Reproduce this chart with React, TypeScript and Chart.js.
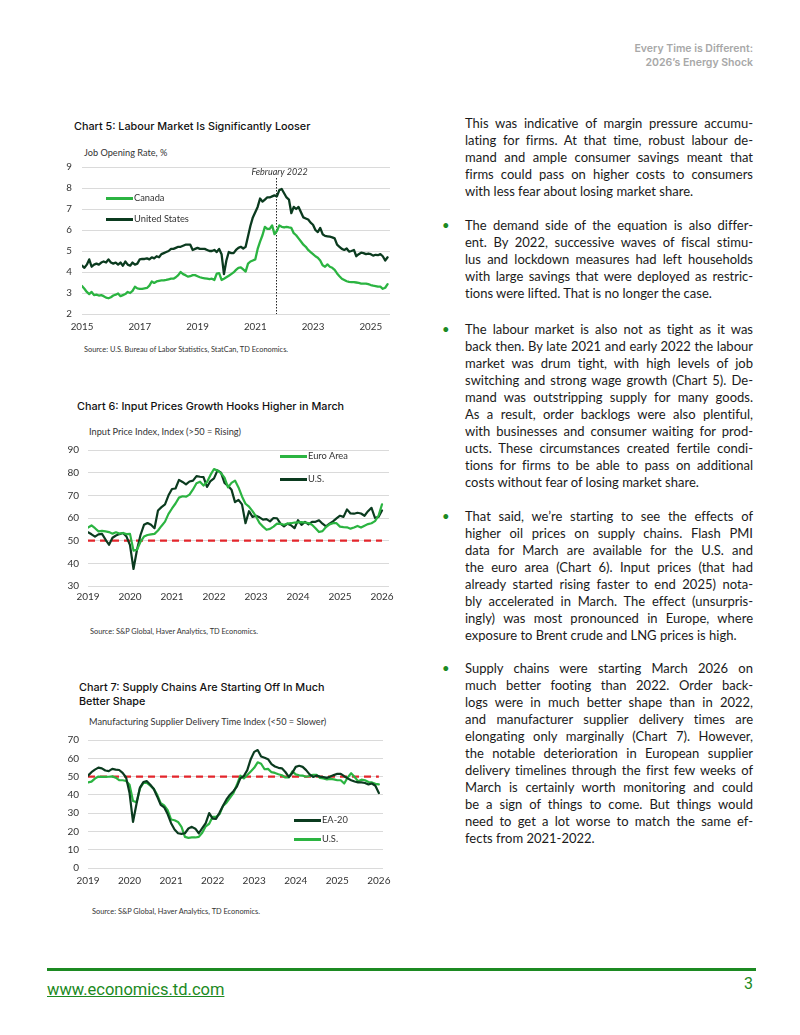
import React, { useEffect, useRef } from "react";
import { Chart, registerables } from "chart.js";
Chart.register(...registerables);

// ---------- colours ----------
const DARK = "#0b3b1f";
const GREEN = "#2bb441";
const RED = "#e3262c";
const GRID = "#dadada";
const TD_GREEN = "#1c8a22";

// ---------- Chart 5 data (monthly, Jan 2015 - Aug 2025) ----------
const chart5Ticks = [0, 24, 48, 72, 96, 120];
const chart5TickLabels = ["2015", "2017", "2019", "2021", "2023", "2025"];
const chart5MarkerIndex = 80.5;
const chart5MarkerLabel = "February 2022";
const canadaJobs = [
  3.33, 3.2, 3.05, 2.95, 3.05, 2.9, 2.92, 2.88, 2.9, 2.85, 2.78, 2.75,
  2.8, 2.88, 2.92, 2.98, 2.85, 2.9, 2.95, 3.05, 3.0, 3.1, 3.3, 3.22,
  3.2, 3.2, 3.22, 3.24, 3.35, 3.55, 3.48, 3.55, 3.58, 3.6, 3.6, 3.62,
  3.65, 3.68, 3.68, 3.75, 3.85, 4.0, 3.9, 3.85, 3.78, 3.8, 3.85, 3.85,
  3.8, 3.75, 3.72, 3.7, 3.68, 3.66, 3.68, 3.62, 3.92, 3.95, 3.62, 3.68,
  3.75, 3.82, 3.9, 3.98, 4.1, 4.2, 4.22, 4.12, 4.02, 4.4, 4.5, 4.55,
  4.6, 5.1, 5.45, 5.75, 6.15, 6.05, 6.05, 6.22, 5.8, 5.95, 6.22, 6.15,
  6.12, 6.15, 6.12, 6.1, 5.85, 5.75, 5.6, 5.45, 5.3, 5.2, 5.05, 4.95,
  4.85, 4.75, 4.68, 4.55, 4.32, 4.25, 4.36, 4.25, 4.2, 4.1, 3.93, 3.8,
  3.68, 3.62, 3.56, 3.53, 3.52, 3.52, 3.5, 3.48, 3.45, 3.45, 3.45, 3.42,
  3.38, 3.35, 3.33, 3.3, 3.3, 3.2, 3.25, 3.42,
];
const usJobs = [
  4.3, 4.2, 4.35, 4.6, 4.25, 4.35, 4.4, 4.35, 4.45, 4.5, 4.45, 4.6,
  4.45, 4.4, 4.45, 4.35, 4.45, 4.3, 4.5, 4.35, 4.3, 4.45, 4.35, 4.4,
  4.6, 4.62, 4.62, 4.65, 4.6, 4.7, 4.65, 4.75, 4.7, 4.85, 4.9, 4.95,
  5.0, 5.1, 5.1, 5.15, 5.2, 5.2, 5.25, 5.3, 5.3, 5.3, 5.05, 5.1,
  5.15, 5.1, 5.1, 5.1, 5.05, 5.0, 5.0, 5.05, 4.95, 5.1, 4.85, 3.9,
  4.55, 4.95, 4.9, 4.9, 5.05, 5.15, 5.2, 5.12, 5.2, 5.7, 6.2, 6.6,
  6.85, 7.1, 7.5, 7.35, 7.45, 7.55, 7.55, 7.6, 7.65, 7.6, 7.9, 7.95,
  7.75, 7.55, 7.45, 6.8, 7.1, 7.0, 7.1, 6.85, 6.6, 6.55, 6.5, 6.35,
  6.25, 6.0, 5.9, 6.1, 5.8, 5.72, 5.7, 5.68, 5.65, 5.6, 5.3, 5.2,
  5.1, 5.05, 5.12, 4.97, 5.0, 5.05, 4.75, 4.85, 4.92, 4.9, 4.85, 4.88,
  4.85, 4.78, 4.82, 4.8, 4.85, 4.75, 4.55, 4.7,
];

// ---------- Chart 6 data (monthly, Jan 2019 - Jan 2026) ----------
const chart6Ticks = [0, 12, 24, 36, 48, 60, 72, 84];
const chart6TickLabels = ["2019", "2020", "2021", "2022", "2023", "2024", "2025", "2026"];
const chart6Threshold = 50;
const euroInput = [
  55.8, 56.7, 55.5, 54.1, 54.3, 54.1, 53.8, 53.1, 53.7, 53.1, 53.4, 52.9,
  53.0, 45.6, 46.0, 49.5, 51.8, 52.5, 52.8, 53.0, 54.5, 56.5, 58.4, 61.8,
  64.2, 66.4, 69.0, 69.6, 69.4, 70.3, 72.6, 75.3, 76.0, 74.3, 75.9, 79.0,
  81.6, 80.9, 79.8, 77.8, 73.5, 75.5, 76.5, 73.5, 69.5, 66.3, 65.0, 63.0,
  60.7, 57.8, 56.2, 54.8, 55.2, 56.2, 57.5, 57.4, 57.0, 57.5, 57.7, 58.0,
  58.1, 58.2, 58.0, 57.8, 57.0, 55.5, 53.8, 54.2, 56.0, 57.2, 57.7, 57.7,
  56.2, 56.0, 55.9, 55.3, 55.8, 56.5, 55.8, 56.6, 57.3, 57.7, 58.6, 61.0,
  66.0,
];
const usInput = [
  53.7, 52.8, 51.8, 52.8, 53.0, 50.5, 48.2, 51.3, 52.3, 52.9, 53.4, 51.8,
  48.0, 37.5, 46.0, 52.5, 57.0, 57.8, 57.0, 55.5, 63.3, 64.8, 66.0, 70.0,
  72.8, 73.0, 76.8, 75.9, 74.8, 76.1, 76.5, 78.5, 78.2, 78.0, 73.7, 76.3,
  77.5, 81.0, 80.0, 75.5, 74.2, 72.5, 67.0, 68.0, 66.0, 57.7, 63.0, 60.5,
  61.0, 60.3, 59.3, 59.5, 58.5, 60.0, 59.9, 57.5, 56.3, 57.5, 56.8, 55.5,
  59.0, 57.0, 58.3, 57.2, 58.3, 58.3, 59.0, 57.5, 56.3, 57.5, 58.5, 59.8,
  61.0, 60.5, 63.8, 62.0, 61.9, 62.3, 62.0, 61.0, 63.0, 64.5, 60.0, 60.5,
  63.3,
];

// ---------- Chart 7 data (monthly, Jan 2019 - Jan 2026) ----------
const chart7Ticks = [0, 12, 24, 36, 48, 60, 72, 84];
const chart7TickLabels = ["2019", "2020", "2021", "2022", "2023", "2024", "2025", "2026"];
const chart7Threshold = 50;
const ea20Delivery = [
  50.5, 52.4, 53.8, 54.9, 54.5, 53.3, 53.0, 54.2, 53.8, 53.6, 52.0, 49.5,
  41.0, 25.2, 35.0, 44.0, 47.0, 47.5, 45.5, 43.2, 39.0, 34.5, 33.2, 29.5,
  24.5, 21.0, 19.0, 18.7, 19.0, 21.6, 22.5, 21.5, 19.0, 21.8, 24.5, 30.0,
  27.0, 26.9, 30.3, 34.0, 37.5, 40.1, 42.0, 44.5, 49.0, 50.3, 53.5, 59.5,
  63.5, 64.5, 61.0, 60.3, 59.5, 56.8, 55.5, 54.8, 54.5, 52.5, 49.8, 52.0,
  55.3, 55.9, 55.3, 53.5, 51.2, 49.8, 50.5, 50.0, 49.7, 49.3, 50.0, 50.8,
  51.5, 51.5, 50.2, 49.0, 48.0, 47.3, 46.8, 46.8, 46.5, 45.7, 46.2, 45.0,
  41.0,
];
const usDelivery = [
  46.8, 47.2, 48.9, 50.0, 49.8, 49.8, 49.9, 50.1, 49.4, 48.0, 48.0, 47.6,
  45.5, 36.6, 36.0, 43.5, 46.5, 46.6, 45.0, 43.3, 40.0, 35.5, 34.2, 31.6,
  26.5, 26.1, 25.2, 22.5, 17.0, 16.5, 16.7, 16.7, 17.0, 19.3, 22.8, 24.2,
  28.0, 28.0, 29.5, 34.0, 35.7, 38.4, 41.0, 45.5, 50.5, 49.0, 50.9, 52.8,
  54.8, 57.8, 57.0, 54.0, 54.2, 52.4, 52.0, 51.3, 50.7, 49.5, 49.5, 52.8,
  51.2, 50.7, 50.5, 49.9, 50.3, 51.0, 51.0, 49.3, 49.0, 48.4, 48.7, 48.5,
  48.0, 48.0, 46.2, 49.5, 51.8, 49.8, 47.5, 48.3, 48.0, 47.0, 46.8, 46.0,
  45.7,
];

// ---------- text ----------
const para1 = [
  "This was indicative of margin pressure accumu-",
  "lating for firms. At that time, robust labour de-",
  "mand and ample consumer savings meant that",
  "firms could pass on higher costs to consumers",
  "with less fear about losing market share.",
];
const bullet1 = [
  "The demand side of the equation is also differ-",
  "ent. By 2022, successive waves of fiscal stimu-",
  "lus and lockdown measures had left households",
  "with large savings that were deployed as restric-",
  "tions were lifted. That is no longer the case.",
];
const bullet2 = [
  "The labour market is also not as tight as it was",
  "back then. By late 2021 and early 2022 the labour",
  "market was drum tight, with high levels of job",
  "switching and strong wage growth (Chart 5). De-",
  "mand was outstripping supply for many goods.",
  "As a result, order backlogs were also plentiful,",
  "with businesses and consumer waiting for prod-",
  "ucts. These circumstances created fertile condi-",
  "tions for firms to be able to pass on additional",
  "costs without fear of losing market share.",
];
const bullet3 = [
  "That said, we\u2019re starting to see the effects of",
  "higher oil prices on supply chains. Flash PMI",
  "data for March are available for the U.S. and",
  "the euro area (Chart 6). Input prices (that had",
  "already started rising faster to end 2025) nota-",
  "bly accelerated in March. The effect (unsurpris-",
  "ingly) was most pronounced in Europe, where",
  "exposure to Brent crude and LNG prices is high.",
];
const bullet4 = [
  "Supply chains were starting March 2026 on",
  "much better footing than 2022. Order back-",
  "logs were in much better shape than in 2022,",
  "and manufacturer supplier delivery times are",
  "elongating only marginally (Chart 7). However,",
  "the notable deterioration in European supplier",
  "delivery timelines through the first few weeks of",
  "March is certainly worth monitoring and could",
  "be a sign of things to come. But things would",
  "need to get a lot worse to match the same ef-",
  "fects from 2021-2022.",
];

const FONT = "Lato, 'Noto Sans', sans-serif";
const TITLE_FONT = "Inter, 'Noto Sans', sans-serif";

const toXY = (arr: number[]) => arr.map((v, i) => ({ x: i, y: v }));
const flat = (v: number, n: number) => [{ x: 0, y: v }, { x: n, y: v }];

type Opt = {
  yMin: number; yMax: number; yStep: number; xMax: number;
  ticks: number[]; tickLabels: string[];
  pad: { left: number; right: number; top: number; bottom: number };
  yWidth: number; xHeight: number; yPad: number; xPad: number; fontSize: number;
};

function makeOptions(o: Opt): any {
  return {
    responsive: false,
    animation: false,
    layout: { padding: o.pad },
    plugins: { legend: { display: false }, tooltip: { enabled: false } },
    elements: { point: { radius: 0 }, line: { tension: 0, borderJoinStyle: "round", borderCapStyle: "round" } },
    scales: {
      x: {
        type: "linear",
        min: 0,
        max: o.xMax,
        grid: { display: false, drawTicks: false },
        border: { display: false },
        afterBuildTicks: (s: any) => { s.ticks = o.ticks.map((v) => ({ value: v })); },
        afterFit: (s: any) => { s.height = o.xHeight; },
        ticks: {
          autoSkip: false, maxRotation: 0, minRotation: 0, padding: o.xPad,
          color: "#333", font: { family: FONT, size: o.fontSize },
          callback: (v: number) => { const k = o.ticks.indexOf(v); return k >= 0 ? o.tickLabels[k] : ""; },
        },
      },
      y: {
        min: o.yMin,
        max: o.yMax,
        afterFit: (s: any) => { s.width = o.yWidth; },
        grid: { color: GRID, lineWidth: 1, drawTicks: false },
        border: { display: false },
        ticks: { stepSize: o.yStep, padding: o.yPad, color: "#333", font: { family: FONT, size: o.fontSize } },
      },
    },
  };
}

function ChartBox({ left, top, width, height, build }: { left: number; top: number; width: number; height: number; build: () => any }) {
  const ref = useRef<HTMLCanvasElement>(null);
  useEffect(() => {
    const chart = new Chart(ref.current as HTMLCanvasElement, build());
    return () => chart.destroy();
  }, []);
  return (
    <div style={{ position: "absolute", left, top, width, height }}>
      <canvas ref={ref} width={width} height={height} style={{ width, height, display: "block" }} />
    </div>
  );
}

const markerPlugin = {
  id: "marker5",
  beforeDatasetsDraw(chart: any) {
    const { ctx, chartArea, scales } = chart;
    const x = Math.round(scales.x.getPixelForValue(chart5MarkerIndex)) + 0.5;
    ctx.save();
    ctx.strokeStyle = "#222";
    ctx.lineWidth = 1;
    ctx.setLineDash([1.5, 1.5]);
    ctx.beginPath();
    ctx.moveTo(x, chartArea.top + 11);
    ctx.lineTo(x, chartArea.bottom);
    ctx.stroke();
    ctx.setLineDash([]);
    ctx.font = `italic 9px ${FONT}`;
    ctx.fillStyle = "#333";
    ctx.textAlign = "center";
    ctx.textBaseline = "middle";
    ctx.fillText(chart5MarkerLabel, x + 3, chartArea.top + 5);
    ctx.restore();
  },
};

function build5() {
  return {
    type: "line",
    data: {
      datasets: [
        { label: "Canada", data: toXY(canadaJobs), borderColor: GREEN, borderWidth: 2.3 },
        { label: "United States", data: toXY(usJobs), borderColor: DARK, borderWidth: 2.3 },
      ],
    },
    options: makeOptions({
      yMin: 2, yMax: 9, yStep: 1, xMax: 128, ticks: chart5Ticks, tickLabels: chart5TickLabels,
      pad: { left: 0, right: 10, top: 17, bottom: 6 }, yWidth: 32, xHeight: 20, yPad: 10, xPad: 7, fontSize: 9.8,
    }),
    plugins: [markerPlugin],
  };
}

function build6() {
  return {
    type: "line",
    data: {
      datasets: [
        { label: "Euro Area", data: toXY(euroInput), borderColor: GREEN, borderWidth: 2.2 },
        { label: "U.S.", data: toXY(usInput), borderColor: DARK, borderWidth: 2.2 },
        { label: "50", data: flat(chart6Threshold, 84), borderColor: RED, borderWidth: 2.2, borderDash: [7, 5], borderCapStyle: "butt" },
      ],
    },
    options: makeOptions({
      yMin: 30, yMax: 90, yStep: 10, xMax: 86, ticks: chart6Ticks, tickLabels: chart6TickLabels,
      pad: { left: 0, right: 11, top: 10, bottom: 4 }, yWidth: 38, xHeight: 20, yPad: 9, xPad: 5, fontSize: 10,
    }),
  };
}

function build7() {
  return {
    type: "line",
    data: {
      datasets: [
        { label: "EA-20", data: toXY(ea20Delivery), borderColor: DARK, borderWidth: 2.2 },
        { label: "U.S.", data: toXY(usDelivery), borderColor: GREEN, borderWidth: 2.2 },
        { label: "50", data: flat(chart7Threshold, 84), borderColor: RED, borderWidth: 2.2, borderDash: [7, 5], borderCapStyle: "butt" },
      ],
    },
    options: makeOptions({
      yMin: 0, yMax: 70, yStep: 10, xMax: 85.2, ticks: chart7Ticks, tickLabels: chart7TickLabels,
      pad: { left: 0, right: 17, top: 10, bottom: 12 }, yWidth: 38, xHeight: 20, yPad: 9, xPad: 7, fontSize: 10,
    }),
  };
}

const abs = (left: number, top: number, extra: any = {}) => ({ position: "absolute" as const, left, top, ...extra });

function Legend({ left, items }: { left: number; items: { label: string; color: string; y: number }[] }) {
  return (
    <>
      {items.map((it, i) => (
        <React.Fragment key={i}>
          <div style={abs(left, it.y - 1.5, { width: 27, height: 3, background: it.color })} />
          <div style={abs(left + 28, it.y - 6, { fontFamily: FONT, fontSize: 9.3, lineHeight: "12px", color: "#333", whiteSpace: "nowrap" })}>{it.label}</div>
        </React.Fragment>
      ))}
    </>
  );
}

function Para({ top, lines, bullet }: { top: number; lines: string[]; bullet?: boolean }) {
  return (
    <div style={abs(465, top, { width: 288, fontFamily: FONT, fontSize: 13, color: "#1a1a1a", fontVariantLigatures: "none" })}>
      {bullet && <div style={abs(-23, 0, { color: TD_GREEN, lineHeight: "17px", fontSize: 13 })}>{"\u2022"}</div>}
      {lines.map((l, i) => (
        <div
          key={i}
          style={{
            height: 17, lineHeight: "17px", whiteSpace: "nowrap", textAlign: "justify",
            textAlignLast: i < lines.length - 1 ? "justify" : "left",
          } as any}
        >
          {l}
        </div>
      ))}
    </div>
  );
}

const titleStyle = { fontFamily: TITLE_FONT, fontSize: 10.8, fontWeight: 500, color: "#111", lineHeight: "13.7px", whiteSpace: "nowrap" };
const axisTitleStyle = { fontFamily: FONT, fontSize: 9.2, color: "#333", lineHeight: "12px", whiteSpace: "nowrap" };
const sourceStyle = { fontFamily: FONT, fontSize: 7.4, color: "#333", lineHeight: "10px", whiteSpace: "nowrap" };

export default function App() {
  return (
    <div style={{ position: "absolute", left: 0, top: 0, width: 800, height: 1035, background: "#fff", overflow: "hidden" }}>
      {/* header */}
      <div style={abs(500, 42, { width: 253, textAlign: "right", fontFamily: TITLE_FONT, fontWeight: 600, fontSize: 10.5, lineHeight: "13.7px", color: "#a8a8a8" })}>
        Every Time is Different:<br />2026{"\u2019"}s Energy Shock
      </div>

      {/* Chart 5 */}
      <div style={abs(74, 120, titleStyle)}>Chart 5: Labour Market Is Significantly Looser</div>
      <div style={abs(84, 147, axisTitleStyle)}>Job Opening Rate, %</div>
      <ChartBox left={50} top={150} width={350} height={190} build={build5} />
      <Legend left={106} items={[{ label: "Canada", color: GREEN, y: 198 }, { label: "United States", color: DARK, y: 219 }]} />
      <div style={abs(84, 345, sourceStyle)}>Source: U.S. Bureau of Labor Statistics, StatCan, TD Economics.</div>

      {/* Chart 6 */}
      <div style={abs(77, 400, titleStyle)}>Chart 6: Input Prices Growth Hooks Higher in March</div>
      <div style={abs(89, 426, axisTitleStyle)}>Input Price Index, Index (&gt;50 = Rising)</div>
      <ChartBox left={50} top={435} width={350} height={175} build={build6} />
      <Legend left={280} items={[{ label: "Euro Area", color: GREEN, y: 456 }, { label: "U.S.", color: DARK, y: 479 }]} />
      <div style={abs(90, 627, sourceStyle)}>Source: S&amp;P Global, Haver Analytics, TD Economics.</div>

      {/* Chart 7 */}
      <div style={abs(79, 681, titleStyle)}>Chart 7: Supply Chains Are Starting Off In Much<br />Better Shape</div>
      <div style={abs(89, 716, axisTitleStyle)}>Manufacturing Supplier Delivery Time Index (&lt;50 = Slower)</div>
      <ChartBox left={50} top={725} width={350} height={175} build={build7} />
      <Legend left={294} items={[{ label: "EA-20", color: DARK, y: 820 }, { label: "U.S.", color: GREEN, y: 839 }]} />
      <div style={abs(92, 907, sourceStyle)}>Source: S&amp;P Global, Haver Analytics, TD Economics.</div>

      {/* body text */}
      <Para top={114.5} lines={para1} />
      <Para top={217} lines={bullet1} bullet />
      <Para top={320.5} lines={bullet2} bullet />
      <Para top={507.5} lines={bullet3} bullet />
      <Para top={660} lines={bullet4} bullet />

      {/* footer */}
      <div style={abs(47, 968, { width: 709, height: 3, background: TD_GREEN })} />
      <div style={abs(47, 980, { fontFamily: "Roboto, sans-serif", fontSize: 16.5, lineHeight: "19px", color: TD_GREEN, textDecoration: "underline" })}>www.economics.td.com</div>
      <div style={abs(700, 974, { width: 53, textAlign: "right", fontFamily: "Roboto, sans-serif", fontSize: 16, lineHeight: "19px", color: TD_GREEN })}>3</div>
    </div>
  );
}
